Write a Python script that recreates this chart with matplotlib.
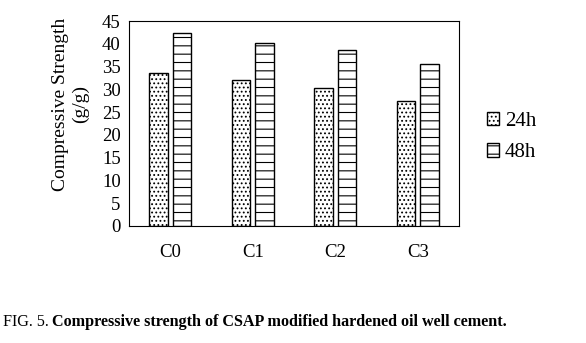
import numpy as np
import matplotlib.pyplot as plt

plt.rcParams['font.family'] = ['Liberation Serif', 'DejaVu Serif']
plt.rcParams['hatch.linewidth'] = 0.8

# Datos
muestras = ['C0', 'C1', 'C2', 'C3']
r24h = [33.5, 32.0, 30.4, 27.4]
r48h = [42.3, 40.1, 38.6, 35.5]

fig = plt.figure(figsize=(5.86, 3.43), dpi=100)
ax = fig.add_axes([129/586, 1 - 226/343, 330/586, 205/343])

x = np.arange(len(muestras))
w = 0.225
ax.bar(x - 0.14, r24h, w, color='white', edgecolor='black', linewidth=1, hatch='....', label='24h')
ax.bar(x + 0.14, r48h, w, color='white', edgecolor='black', linewidth=1, hatch='--', label='48h')

ax.set_xlim(-0.5, 3.5)
ax.set_ylim(0, 45)
ax.set_yticks(range(0, 46, 5))
ax.set_xticks(x)
ax.set_xticklabels(muestras)
ax.tick_params(length=0, labelsize=13.5)
ax.tick_params(axis='y', pad=6)
ax.tick_params(axis='x', pad=13)
ax.set_ylabel('Compressive Strength\n(g/g)', fontsize=14)
ax.yaxis.set_label_coords(-0.12, 0.595)

ax.legend(loc='center left', bbox_to_anchor=(1.028, 0.434), frameon=False, fontsize=15,
          handlelength=0.6, handleheight=0.6, handletextpad=0.25, labelspacing=0.6)

fig.text(0.005, 0.05, 'FIG. 5. ', fontsize=11.6)
fig.text(0.088, 0.05, 'Compressive strength of CSAP modified hardened oil well cement.',
         fontsize=11.6, fontweight='bold')

plt.savefig('out.png', dpi=100)
